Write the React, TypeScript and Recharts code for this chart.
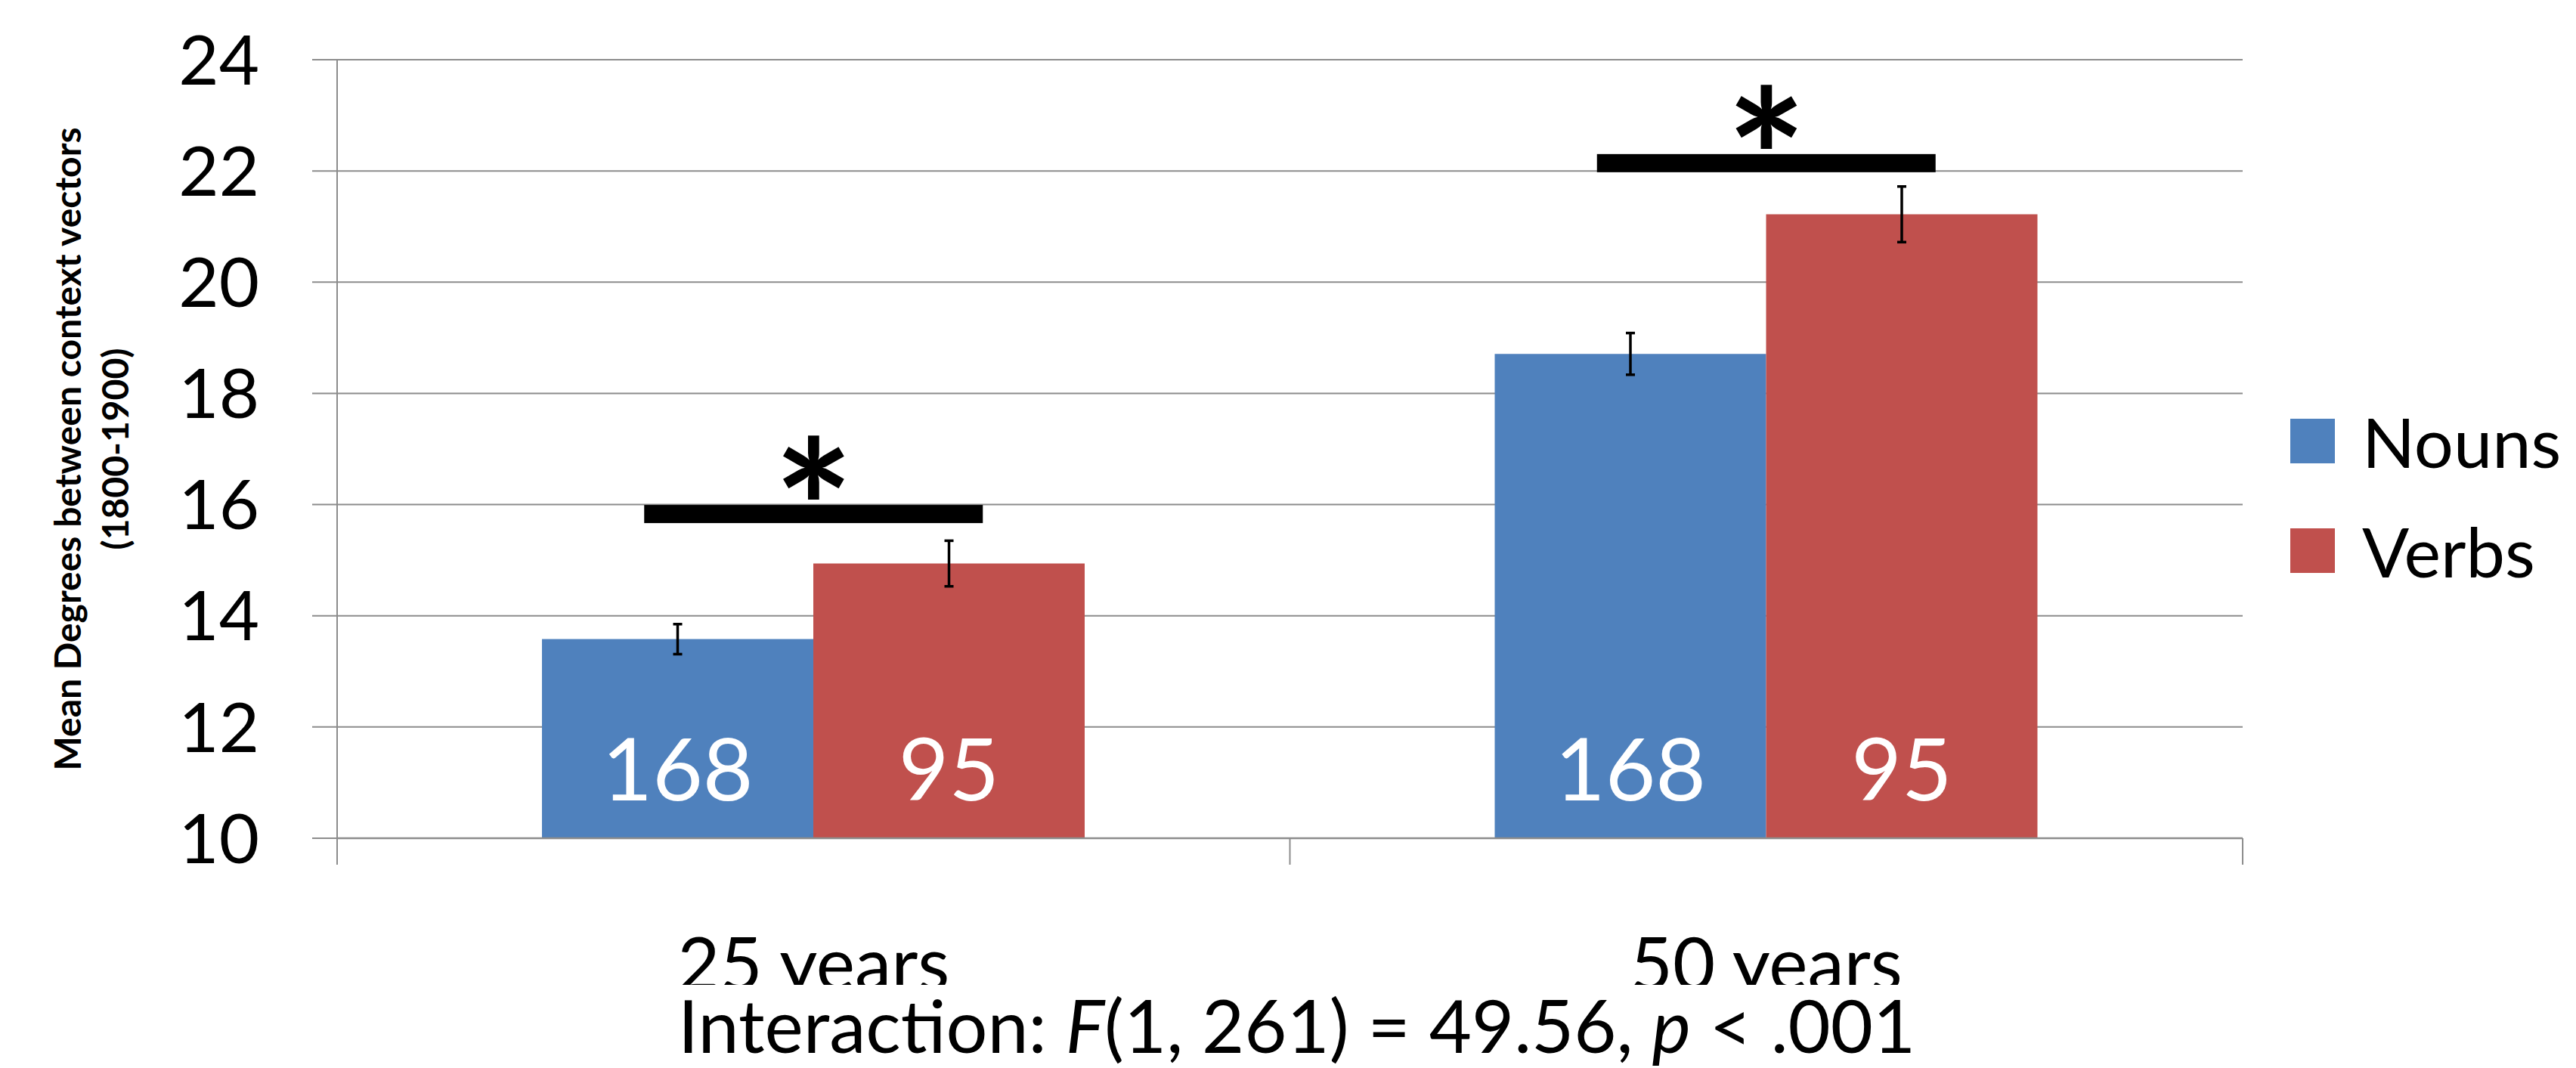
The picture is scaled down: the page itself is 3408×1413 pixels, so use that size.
import React from "react";
import {
  BarChart,
  Bar,
  XAxis,
  YAxis,
  CartesianGrid,
  ErrorBar,
  LabelList,
  Legend,
  ReferenceDot,
} from "recharts";

const categories = ["25 years", "50 years"];
const nounMeans = [13.58, 18.71];
const verbMeans = [14.94, 21.22];
const nounErrors = [0.27, 0.375];
const verbErrors = [0.41, 0.5];
const nounCounts = [168, 168];
const verbCounts = [95, 95];
const sigLevels = [15.83, 22.14];
const yTicks = [10, 12, 14, 16, 18, 20, 22, 24];

const W = 3408;
const H = 1413;
const PLOT_LEFT = 446;
const PLOT_RIGHT = 2967;
const PLOT_TOP = 79;
const PLOT_BOTTOM = 1109;
const FONT = "Lato, 'Open Sans', sans-serif";
const GRID = "#8c8c8c";
const NOUN_COLOR = "#4f81bd";
const VERB_COLOR = "#c0504d";

const data = categories.map((category, i) => ({
  category,
  nouns: nounMeans[i],
  verbs: verbMeans[i],
  nounErr: nounErrors[i],
  verbErr: verbErrors[i],
  nounN: nounCounts[i],
  verbN: verbCounts[i],
}));

const halfBand = (PLOT_RIGHT - PLOT_LEFT) / categories.length / 2;

function CategoryTick(props: any) {
  const { x, payload, index } = props;
  return (
    <g>
      <line x1={x - halfBand} y1={PLOT_BOTTOM} x2={x - halfBand} y2={PLOT_BOTTOM + 35} stroke={GRID} strokeWidth={2} />
      {index === categories.length - 1 && (
        <line x1={x + halfBand} y1={PLOT_BOTTOM} x2={x + halfBand} y2={PLOT_BOTTOM + 35} stroke={GRID} strokeWidth={2} />
      )}
      <text x={x} y={PLOT_BOTTOM + 201} textAnchor="middle" fontSize={97} fontFamily={FONT} fill="#000">
        {payload.value}
      </text>
    </g>
  );
}

function YTitle() {
  const cy = (PLOT_TOP + PLOT_BOTTOM) / 2;
  return (
    <g fontFamily={FONT} fontSize={48} fontWeight={700} fill="#000">
      <text x={107} y={cy} textAnchor="middle" transform={`rotate(-90 107 ${cy})`}>
        Mean Degrees between context vectors
      </text>
      <text x={170} y={cy} textAnchor="middle" transform={`rotate(-90 170 ${cy})`}>
        (1800-1900)
      </text>
    </g>
  );
}

function CountLabel(props: any) {
  const { x, y, width, height, value } = props;
  return (
    <text
      x={Number(x) + Number(width) / 2}
      y={Number(y) + Number(height) - 50}
      textAnchor="middle"
      fill="#ffffff"
      fontSize={115}
      fontFamily={FONT}
    >
      {value}
    </text>
  );
}

function SigMarker(props: any) {
  const { cx, cy } = props;
  return (
    <g>
      <rect x={cx - 224} y={cy - 12} width={448} height={24} fill="#000" />
      <text x={cx} y={cy + 85} textAnchor="middle" fontSize={250} fontWeight={700} fontFamily={FONT} fill="#000">
        *
      </text>
    </g>
  );
}

function LegendBox(props: any) {
  const { payload } = props;
  return (
    <div style={{ fontFamily: FONT }}>
      {(payload || []).map((entry: any) => (
        <div key={entry.value} style={{ display: "flex", alignItems: "center", height: 145 }}>
          <span style={{ width: 59, height: 59, background: entry.color, display: "inline-block" }} />
          <span style={{ marginLeft: 36, fontSize: 92, lineHeight: 1, color: "#000" }}>{entry.value}</span>
        </div>
      ))}
    </div>
  );
}

export default function App() {
  return (
    <div style={{ position: "absolute", left: 0, top: 0, width: W, height: H, background: "#fff" }}>
      <BarChart
        width={W}
        height={H}
        data={data}
        margin={{ top: PLOT_TOP, right: W - PLOT_RIGHT, bottom: 104, left: 0 }}
        barCategoryGap="21.5%"
        barGap={0}
      >
        <CartesianGrid vertical={false} stroke={GRID} strokeWidth={2} />
        <XAxis
          dataKey="category"
          height={200}
          interval={0}
          axisLine={{ stroke: GRID, strokeWidth: 2.5 }}
          tickLine={false}
          tick={<CategoryTick />}
        />
        <YAxis
          domain={[10, 24]}
          ticks={yTicks}
          interval={0}
          width={PLOT_LEFT}
          tickSize={33}
          tickMargin={70}
          axisLine={{ stroke: GRID, strokeWidth: 2 }}
          tickLine={{ stroke: GRID, strokeWidth: 2 }}
          tick={{ fontSize: 92, fill: "#000", fontFamily: FONT }}
          allowDataOverflow
          label={{ value: "title", content: () => <YTitle /> }}
        />
        <Legend
          layout="vertical"
          align="center"
          verticalAlign="middle"
          wrapperStyle={{ left: 3030, top: 511, width: 378 }}
          content={<LegendBox />}
        />
        <Bar dataKey="nouns" name="Nouns" fill={NOUN_COLOR} isAnimationActive={false}>
          <ErrorBar dataKey="nounErr" width={6} strokeWidth={3.5} stroke="#000" direction="y" />
          <LabelList dataKey="nounN" content={<CountLabel />} />
        </Bar>
        <Bar dataKey="verbs" name="Verbs" fill={VERB_COLOR} isAnimationActive={false}>
          <ErrorBar dataKey="verbErr" width={6} strokeWidth={3.5} stroke="#000" direction="y" />
          <LabelList dataKey="verbN" content={<CountLabel />} />
        </Bar>
        {categories.map((c, i) => (
          <ReferenceDot key={c} x={c} y={sigLevels[i]} r={0} shape={<SigMarker />} ifOverflow="visible" />
        ))}
      </BarChart>
      <svg
        width={W}
        height={H}
        style={{ position: "absolute", left: 0, top: 0, pointerEvents: "none" }}
      >
        <rect x={880} y={1303} width={1680} height={110} fill="#fff" />
        <text x={897} y={1393} fontSize={97} fontFamily={FONT} fill="#000">
          Interaction: <tspan fontStyle="italic">F</tspan>(1, 261) = 49.56, <tspan fontStyle="italic">p</tspan> &lt; .001
        </text>
      </svg>
    </div>
  );
}
